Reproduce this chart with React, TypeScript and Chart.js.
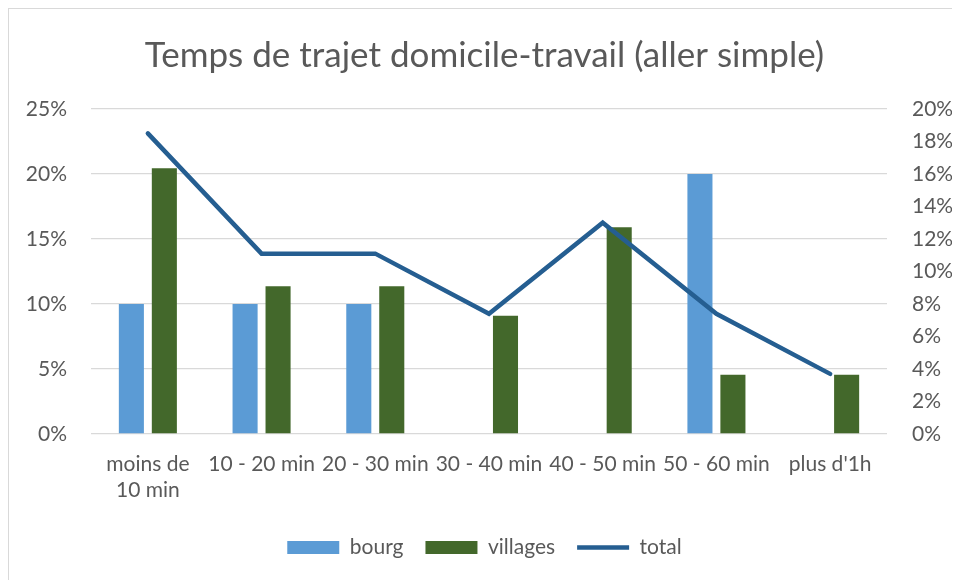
import React, { useEffect, useRef } from "react";
import { Chart, registerables } from "chart.js";

Chart.register(...registerables);

const categories: (string | string[])[] = [
  ["moins de", "10 min"],
  "10 - 20 min",
  "20 - 30 min",
  "30 - 40 min",
  "40 - 50 min",
  "50 - 60 min",
  "plus d'1h",
];
const bourg: (number | null)[] = [10, 10, 10, null, null, 20, null];
const villages: number[] = [20.45, 11.36, 11.36, 9.09, 15.91, 4.55, 4.55];
const total: number[] = [18.5, 11.1, 11.1, 7.4, 13.0, 7.4, 3.7];

const leftTicks = { min: 0, max: 25, step: 5 };
const rightTicks = { min: 0, max: 20, step: 2 };

const FONT = "Lato";
const TEXT = "#595959";

export default function App() {
  const ref = useRef<HTMLCanvasElement | null>(null);
  useEffect(() => {
    if (!ref.current) return;
    const chart = new Chart(ref.current, {
      data: {
        labels: categories,
        datasets: [
          {
            type: "line",
            label: "total",
            data: total,
            yAxisID: "y1",
            borderColor: "#255e91",
            backgroundColor: "#255e91",
            borderWidth: 4.5,
            borderCapStyle: "round",
            pointRadius: 0,
            pointStyle: "line",
            order: 0,
          } as any,
          {
            type: "bar",
            label: "bourg",
            data: bourg,
            yAxisID: "y",
            backgroundColor: "#5b9bd5",
            pointStyle: "rect",
            categoryPercentage: 0.58,
            barPercentage: 0.76,
            order: 1,
          } as any,
          {
            type: "bar",
            label: "villages",
            data: villages,
            yAxisID: "y",
            backgroundColor: "#43682b",
            pointStyle: "rect",
            categoryPercentage: 0.58,
            barPercentage: 0.76,
            order: 2,
          } as any,
        ],
      },
      options: {
        animation: false,
        responsive: false,
        layout: { padding: { left: 0, right: 0, top: 0, bottom: 12 } },
        plugins: {
          title: {
            display: true,
            text: "Temps de trajet domicile-travail (aller simple)",
            color: TEXT,
            font: { family: FONT, size: 35, weight: "normal" },
            padding: { top: 26, bottom: 32 },
          },
          legend: {
            position: "bottom",
            labels: {
              usePointStyle: true,
              pointStyleWidth: 52,
              boxHeight: 13,
              color: TEXT,
              font: { family: FONT, size: 21 },
              padding: 22,
              sort: (a: any, b: any) => {
                const ord: Record<string, number> = { bourg: 0, villages: 1, total: 2 };
                return ord[a.text] - ord[b.text];
              },
            },
          },
          tooltip: { enabled: false },
        },
        scales: {
          x: {
            grid: { display: false },
            border: { display: false },
            ticks: {
              color: TEXT,
              font: { family: FONT, size: 21 },
              maxRotation: 0,
              autoSkip: false,
              padding: 10,
            },
            afterFit: (s: any) => {
              s.height = 81;
            },
          },
          y: {
            position: "left",
            min: leftTicks.min,
            max: leftTicks.max,
            grid: { color: "#d9d9d9", lineWidth: 1.3, drawTicks: false },
            border: { display: false },
            ticks: {
              stepSize: leftTicks.step,
              color: TEXT,
              font: { family: FONT, size: 21 },
              padding: 24,
              callback: (v: any) => v + "%",
            },
            afterFit: (s: any) => {
              s.width = 82;
            },
          },
          y1: {
            position: "right",
            min: rightTicks.min,
            max: rightTicks.max,
            grid: { display: false, drawTicks: false },
            border: { display: false },
            ticks: {
              stepSize: rightTicks.step,
              color: TEXT,
              font: { family: FONT, size: 21 },
              padding: 25,
              callback: (v: any) => v + "%",
            },
            afterFit: (s: any) => {
              s.width = 73;
            },
          },
        },
      } as any,
    });
    return () => chart.destroy();
  }, []);
  return (
    <div
      style={{
        width: 951,
        height: 571,
        borderTop: "1px solid #d9d9d9",
        borderLeft: "1px solid #d9d9d9",
        background: "#fff",
        overflow: "hidden",
      }}
    >
      <canvas ref={ref} width={951} height={571} />
    </div>
  );
}
